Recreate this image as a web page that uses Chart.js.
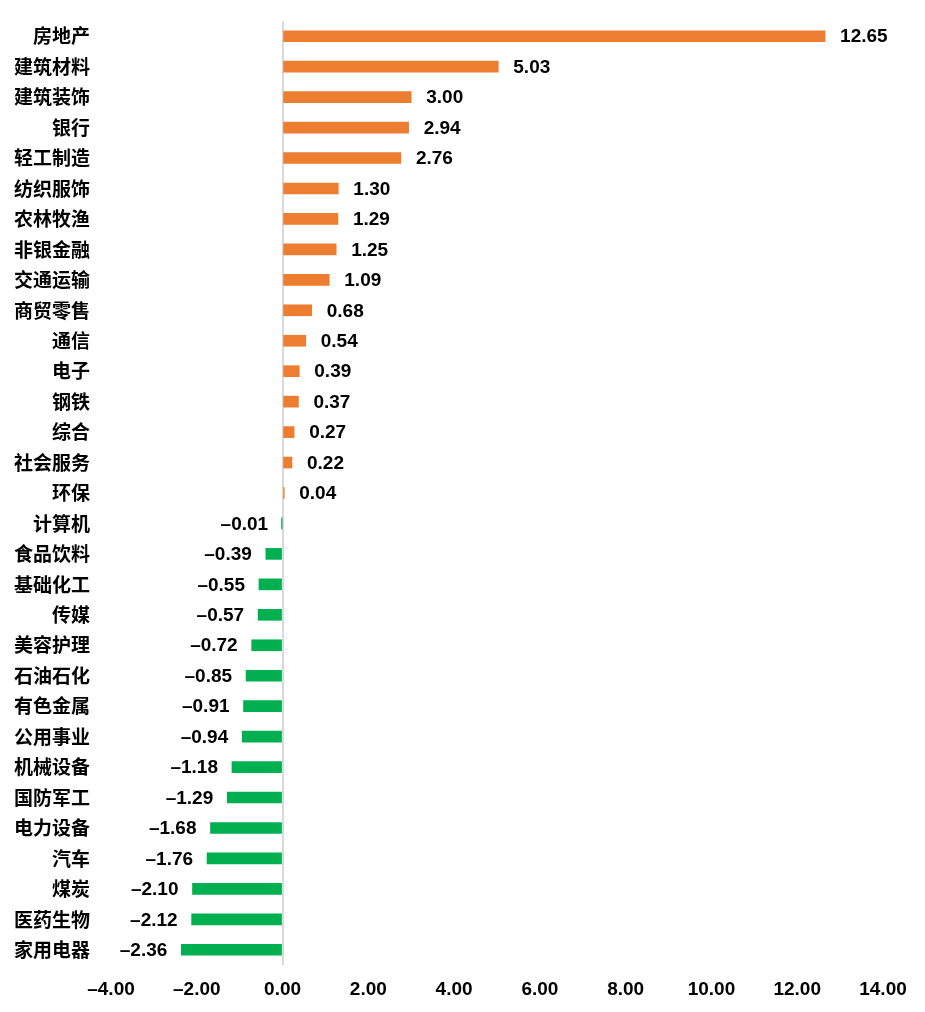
<!DOCTYPE html>
<html>
<head>
<meta charset="utf-8">
<script src="https://cdn.jsdelivr.net/npm/chart.js@4"></script>
<style>
    body { margin: 0; background: #fff; }
</style>
</head>
<body>
<canvas id="industryChart" width="925" height="1012"></canvas>
<script>
const industries = [
    '房地产', '建筑材料', '建筑装饰', '银行', '轻工制造', '纺织服饰', '农林牧渔', '非银金融',
    '交通运输', '商贸零售', '通信', '电子', '钢铁', '综合', '社会服务', '环保',
    '计算机', '食品饮料', '基础化工', '传媒', '美容护理', '石油石化', '有色金属', '公用事业',
    '机械设备', '国防军工', '电力设备', '汽车', '煤炭', '医药生物', '家用电器'
];
const changes = [
    12.65, 5.03, 3.00, 2.94, 2.76, 1.30, 1.29, 1.25,
    1.09, 0.68, 0.54, 0.39, 0.37, 0.27, 0.22, 0.04,
    -0.01, -0.39, -0.55, -0.57, -0.72, -0.85, -0.91, -0.94,
    -1.18, -1.29, -1.68, -1.76, -2.10, -2.12, -2.36
];
const xTicks = [-4, -2, 0, 2, 4, 6, 8, 10, 12, 14];

const fmt = v => (v < 0 ? '–' : '') + Math.abs(v).toFixed(2);

// value labels at the bar ends
const barLabels = {
    id: 'barLabels',
    afterDatasetsDraw(chart) {
        const c = chart.ctx;
        const meta = chart.getDatasetMeta(0);
        c.save();
        c.font = 'bold 19px "Liberation Sans", Arial, sans-serif';
        c.fillStyle = '#000';
        c.textBaseline = 'middle';
        meta.data.forEach((bar, i) => {
            const v = changes[i];
            if (v >= 0) {
                c.textAlign = 'left';
                c.fillText(fmt(v), bar.x + 15, bar.y + 1);
            } else {
                c.textAlign = 'right';
                c.fillText(fmt(v), bar.x - 14, bar.y + 1);
            }
        });
        c.restore();
    }
};

const ctx = document.getElementById('industryChart');
new Chart(ctx, {
    type: 'bar',
    data: {
        labels: industries,
        datasets: [{
            data: changes,
            backgroundColor: changes.map(v => v >= 0 ? '#ED7D31' : '#00B050'),
            barThickness: 11
        }]
    },
    options: {
        indexAxis: 'y',
        responsive: false,
        animation: false,
        layout: { padding: { top: 21, right: 42, left: 0, bottom: 0 } },
        plugins: {
            legend: { display: false },
            tooltip: { enabled: false }
        },
        scales: {
            x: {
                min: -4,
                max: 14,
                afterBuildTicks: scale => { scale.ticks = xTicks.map(v => ({ value: v })); },
                afterFit: scale => { scale.height = 47; },
                border: { display: false },
                grid: {
                    drawTicks: false,
                    color: c => c.tick && c.tick.value === 0 ? '#d9d9d9' : 'rgba(0,0,0,0)',
                    lineWidth: 2
                },
                ticks: {
                    padding: 13,
                    color: '#000',
                    maxRotation: 0,
                    font: { family: '"Liberation Sans", Arial, sans-serif', size: 19, weight: 'bold' },
                    callback: v => fmt(v)
                }
            },
            y: {
                afterFit: scale => {
                    scale.width = 111;
                    scale.paddingTop = 0;
                    scale.paddingBottom = 0;
                },
                border: { display: false },
                grid: { display: false, drawTicks: false },
                ticks: {
                    autoSkip: false,
                    padding: 21,
                    color: '#000',
                    font: { family: '"Noto Sans CJK SC", sans-serif', size: 19, weight: 'bold' }
                }
            }
        }
    },
    plugins: [barLabels]
});
</script>
</body>
</html>
